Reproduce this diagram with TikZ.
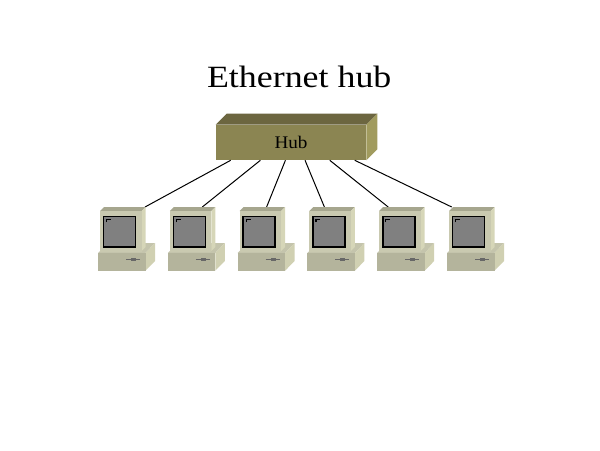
\documentclass[tikz,border=0pt]{standalone}
\usepackage{fontspec}
\setmainfont{Liberation Serif}
\usepackage{graphicx}
\usepackage{xcolor}
\definecolor{hubfront}{HTML}{8B8552}
\definecolor{hubtop}{HTML}{6C6640}
\definecolor{hubside}{HTML}{A19B5E}
\definecolor{pcfront}{HTML}{C9C9B0}
\definecolor{pctop}{HTML}{A6A68E}
\definecolor{pcside}{HTML}{D6D6B8}
\definecolor{basefront}{HTML}{B4B49C}
\definecolor{basetop}{HTML}{C4C4AC}
\definecolor{baseside}{HTML}{D0D0B2}
\definecolor{screengray}{HTML}{808080}
\usetikzlibrary{positioning}
\usetikzlibrary{calc}

\begin{document}
\begin{tikzpicture}[x=0.75pt, y=-0.75pt,
		hubbox/.style={fill=hubfront, minimum width=112.5pt, minimum height=26.25pt, inner sep=0pt, font=\fontsize{13.3}{16}\selectfont},
		titletext/.style={font=\fontsize{23.2}{28}\selectfont, inner sep=0pt, anchor=base},
		cable/.style={black, line width=0.75pt}]
				\useasboundingbox (0,0) rectangle (600,450);
				
				%title
				\node[titletext] (title) at (299.2,87.3) {\scalebox{1.16}[1]{Ethernet hub}};
				
				%hub
				\node[hubbox] (hub) at (291,142.5) {\scalebox{1.08}[1]{Hub}};
				\fill[hubtop] (hub.north west) -- ($(hub.north west)+(11,-11)$) -- ($(hub.north east)+(11,-11)$) -- (hub.north east) -- cycle;
				\fill[hubside] (hub.north east) -- ($(hub.north east)+(11,-11)$) -- ($(hub.south east)+(11,-11)$) -- (hub.south east) -- cycle;
				
				%draw cables
				\foreach \i/\x/\h/\m in {1/100/15/45, 2/169.8/44.7/32.5, 3/239.6/69.7/27, 4/309.4/89.3/15, 5/379.2/114/9, 6/449/139/2.7}{
					\coordinate (hub\i) at ($(hub.south west)+(\h,0)$);
					\coordinate (pc\i) at (\x+\m,207);
					\draw[cable] (hub\i) -- (pc\i);
				}
				
				%draw computers
				\foreach \x in {100,169.8,239.6,309.4,379.2,449}{
					\fill[basetop] (\x-2,253) -- (\x+8,243) -- (\x+55,243) -- (\x+45.5,253) -- cycle;
					\fill[baseside] (\x+45.5,253) -- (\x+55,243) -- (\x+55,261) -- (\x+45.5,270.7) -- cycle;
					\fill[pctop] (\x,211) -- (\x+4,207) -- (\x+45.5,207) -- (\x+41.5,211) -- cycle;
					\fill[pcside] (\x+41.5,211) -- (\x+45.5,207) -- (\x+45.5,247) -- (\x+41.5,251) -- cycle;
					\fill[pcfront] (\x,211) rectangle (\x+41.5,252);
					\filldraw[fill=screengray, draw=black, line width=1.2pt] (\x+3.5,216.3) rectangle (\x+35.5,246.7);
					\draw[black, line width=0.9pt] (\x+6.5,222) -- (\x+6.5,219.5) -- (\x+11,219.5);
					\fill[basefront] (\x-2,253) rectangle (\x+45.5,270.7);
					\draw[screengray!80!black, line width=0.75pt] (\x+26,259.5) -- (\x+40,259.5);
					\fill[screengray!80!black] (\x+31,257.8) rectangle (\x+36,261.2);
				}
			\end{tikzpicture}
\end{document}
